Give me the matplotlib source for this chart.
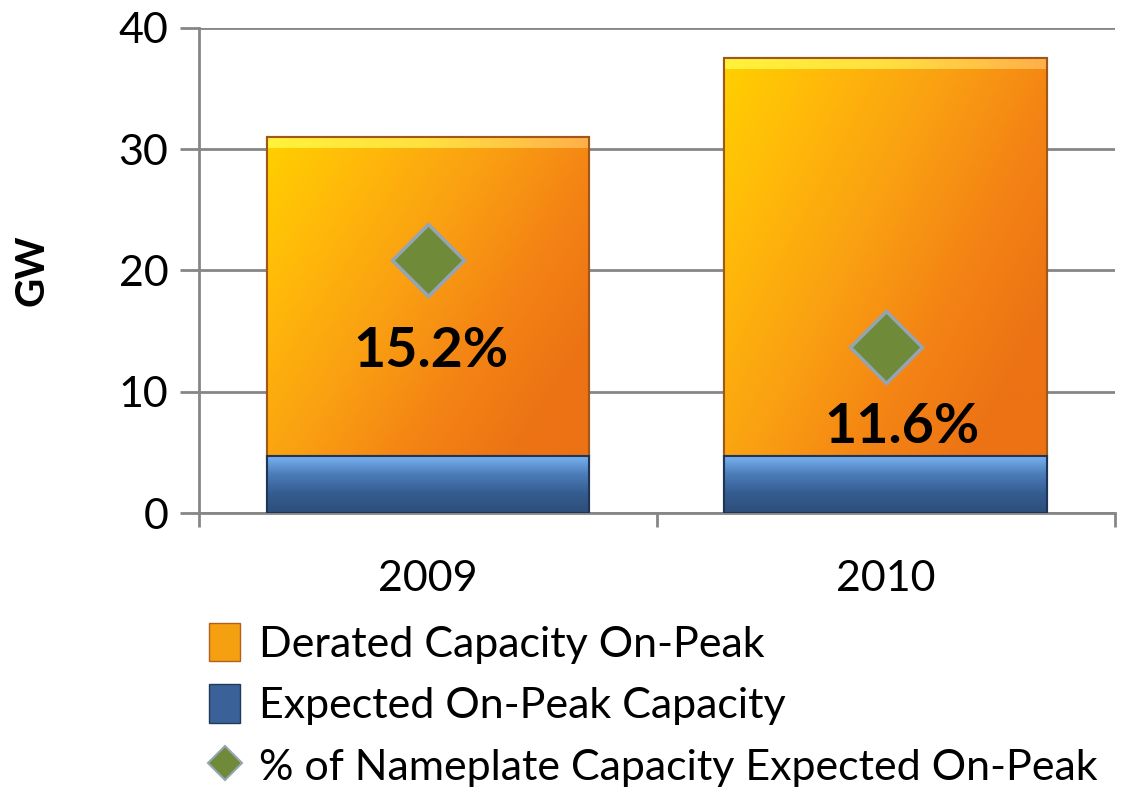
import numpy as np
import matplotlib
matplotlib.use("Agg")
import matplotlib.pyplot as plt
from matplotlib.patches import Patch
from matplotlib.lines import Line2D
from matplotlib.colors import LinearSegmentedColormap

plt.rcParams['font.family'] = ['Lato', 'DejaVu Sans']

years = ['2009', '2010']
expected = [4.7, 4.7]          # Expected On-Peak Capacity (GW)
derated = [26.3, 32.8]         # Derated Capacity On-Peak (GW), stacked on top
pct_pos = [20.9, 13.7]         # where the % markers sit (GW axis)
pct_labels = ['15.2%', '11.6%']

fig = plt.figure(figsize=(11.26, 7.92), dpi=100)
ax = fig.add_axes([0.1767, 0.352, 0.8133, 0.613])

x = np.arange(len(years))
w = 0.705

blue = ax.bar(x, expected, w, color='#3A6298', edgecolor='#203A5C', lw=1.5, zorder=3)
orng = ax.bar(x, derated, w, bottom=expected, color='#F5941A', edgecolor='#8A4A10', lw=1.5, zorder=3)

# glossy gradient fills clipped to each bar
orange_cm = LinearSegmentedColormap.from_list('o', ['#FFD000', '#FFB80A', '#FAA012', '#F48414', '#EC7214'])
blue_cm = LinearSegmentedColormap.from_list('b', ['#7AB4F4', '#4C7CB8', '#345C90', '#2E4E7A'])
for p in orng:
    x0, y0 = p.get_x(), p.get_y()
    x1, y1 = x0 + p.get_width(), y0 + p.get_height()
    gx = np.linspace(0, 1, 200)[None, :]
    gy = np.linspace(0, 1, 200)[:, None]
    g = 0.7 * gx + 0.45 * gy
    g = np.clip(g, 0, 1)
    im = ax.imshow(g, cmap=orange_cm, extent=[x0, x1, y0, y1], origin='upper',
                   aspect='auto', zorder=3.5, vmin=0, vmax=1)
    im.set_clip_path(p)
    # top bevel highlight
    hb = ax.imshow(np.linspace(0, 1, 50)[None, :],
                   cmap=LinearSegmentedColormap.from_list('h', ['#FFF23A', '#FFE040', '#FFB04A']),
                   extent=[x0, x1, y1 - 0.9, y1], aspect='auto', zorder=3.6)
    hb.set_clip_path(p)
    ax.add_patch(plt.Rectangle((x0, y0), x1 - x0, y1 - y0, fill=False,
                               edgecolor='#A0581A', lw=1.5, zorder=3.8))
for p in blue:
    x0, y0 = p.get_x(), p.get_y()
    x1, y1 = x0 + p.get_width(), y0 + p.get_height()
    g = np.linspace(0, 1, 100)[:, None] * np.ones((1, 10))
    im = ax.imshow(g, cmap=blue_cm, extent=[x0, x1, y0, y1], origin='upper',
                   aspect='auto', zorder=3.5, vmin=0, vmax=1)
    im.set_clip_path(p)
    ax.add_patch(plt.Rectangle((x0, y0), x1 - x0, y1 - y0, fill=False,
                               edgecolor='#1E3556', lw=1.5, zorder=3.8))

ax.plot(x, pct_pos, linestyle='none', marker='D', markersize=37,
        markerfacecolor='#6F8B3A', markeredgecolor='#95A4B4', markeredgewidth=2.5, zorder=5)

offsets = [(2, -66), (12, -58)]
for xi, yi, lab, off in zip(x, pct_pos, pct_labels, offsets):
    ax.annotate(lab, (xi, yi), xytext=off, textcoords='offset points',
                ha='center', va='center', fontsize=40, fontweight='bold', zorder=6)

ax.set_xlim(-0.5, 1.5)
ax.set_ylim(0, 40)
ax.set_yticks([0, 10, 20, 30, 40])
ax.set_xticks(x)
ax.set_xticklabels(years)
ax.set_xticks([-0.5, 0.5, 1.5], minor=True)
ax.tick_params(axis='x', which='major', length=0, labelsize=31, pad=34)
ax.tick_params(axis='x', which='minor', length=10, width=2, color='#868686', direction='out')
ax.tick_params(axis='y', length=14, width=2, color='#868686', labelsize=31, pad=8)
ax.yaxis.grid(True, color='#868686', lw=2, zorder=0)
ax.set_axisbelow(True)
for s in ['top', 'right']:
    ax.spines[s].set_visible(False)
for s in ['left', 'bottom']:
    ax.spines[s].set_color('#868686')
    ax.spines[s].set_linewidth(2)
ax.set_ylabel('GW', fontsize=29, fontweight='bold')
ax.yaxis.set_label_coords(-0.162, 0.5)

handles = [
    Patch(facecolor='#F5A010', edgecolor='#B06020'),
    Patch(facecolor='#3A6298', edgecolor='#203A5C'),
    Line2D([], [], linestyle='none', marker='D', markersize=17,
           markerfacecolor='#6F8B3A', markeredgecolor='#95A4B4', markeredgewidth=1.5),
]
labels = ['Derated Capacity On-Peak', 'Expected On-Peak Capacity',
          '% of Nameplate Capacity Expected On-Peak']
fig.legend(handles, labels, loc='upper left', bbox_to_anchor=(0.186, 0.214),
           frameon=False, fontsize=31, handlelength=0.7, handleheight=1.0,
           handletextpad=0.45, labelspacing=0.48, borderpad=0, borderaxespad=0)

fig.savefig('out.png', dpi=100)
